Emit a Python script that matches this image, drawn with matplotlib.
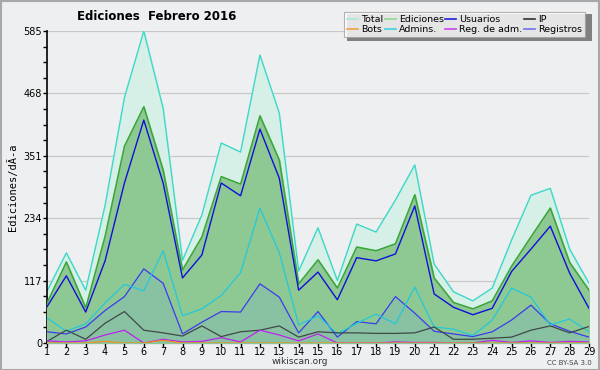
import matplotlib
matplotlib.use("Agg")
import matplotlib.pyplot as plt
from matplotlib.patches import Rectangle
from matplotlib.lines import Line2D
from matplotlib.ticker import MultipleLocator

days = list(range(1, 30))
total = [97, 169, 99, 258, 460, 585, 440, 155, 240, 375, 358, 540, 431, 135, 216, 117, 223, 208, 268, 334,
         148, 96, 79, 103, 193, 277, 290, 176, 112]
ediciones = [75, 152, 66, 200, 369, 443, 324, 137, 199, 312, 298, 426, 343, 111, 156, 103, 180, 173, 186, 278,
             122, 76, 64, 79, 144, 199, 253, 151, 99]
usuarios = [68, 126, 58, 154, 300, 418, 300, 122, 165, 300, 276, 401, 309, 99, 133, 81, 160, 154, 167, 257,
            92, 67, 53, 65, 134, 176, 219, 131, 65]
ip = [3, 24, 7, 37, 59, 24, 19, 13, 32, 12, 21, 24, 32, 11, 21, 19, 19, 18, 18, 19,
      30, 7, 7, 9, 11, 24, 32, 19, 31]
bots = [0, 0, 0, 3, 0, 0, 5, 0, 0, 0, 0, 0, 0, 0, 0, 0, 0, 0, 0, 0,
        0, 0, 0, 0, 0, 0, 0, 0, 0]
admins = [47, 22, 36, 75, 110, 98, 173, 51, 64, 89, 132, 253, 169, 34, 51, 17, 37, 54, 36, 105,
          30, 26, 14, 43, 103, 86, 34, 45, 21]
reg_adm = [4, 2, 4, 15, 24, 0, 7, 2, 3, 10, 2, 24, 15, 4, 17, 0, 0, 0, 2, 1,
           1, 0, 0, 5, 1, 4, 1, 3, 2]
registros = [21, 17, 30, 61, 87, 139, 112, 17, 39, 59, 58, 111, 86, 19, 59, 11, 40, 36, 87, 56,
             22, 17, 12, 21, 43, 71, 36, 22, 11]
yticks = [0, 117, 234, 351, 468, 585]
title = "Ediciones  Febrero 2016"
ylabel = "Ediciones/dÃ-a"

bg = "#eeeff0"
fig = plt.figure(figsize=(6.0, 3.7), dpi=100, facecolor=bg)
ax = fig.add_axes([47/600, 27/370, 542/600, 312/370])
ax.set_facecolor(bg)

for y in yticks[1:]:
    ax.axhline(y, color="#c8c8c8", lw=0.9, zorder=0)

ax.fill_between(days, total, color="#d6f0e8", zorder=1)
ax.plot(days, total, color="#3cd8c8", lw=1.0, zorder=2)
ax.fill_between(days, ediciones, color="#8ec893", zorder=3)
ax.plot(days, ediciones, color="#3aa63a", lw=1.1, zorder=4)
ax.plot(days, usuarios, color="#1010d8", lw=1.0, zorder=5)
ax.fill_between(days, registros, color="#80b8c0", alpha=0.35, lw=0, zorder=5)
ax.plot(days, registros, color="#3b3bf0", lw=0.9, zorder=6)
ax.plot(days, admins, color="#22c8dc", lw=0.9, zorder=6)
ax.plot(days, ip, color="#404848", lw=0.9, zorder=7)
ax.plot(days, reg_adm, color="#bb22ee", lw=0.9, zorder=7)
ax.plot(days, bots, color="#f09020", lw=0.9, zorder=7)

ax.set_xlim(1, 29)
ax.set_ylim(0, 585)
ax.set_xticks(days)
ax.set_yticks(yticks)
ax.yaxis.set_minor_locator(MultipleLocator(117/4))
for s in ["top", "right"]:
    ax.spines[s].set_visible(False)
ax.spines["left"].set_linewidth(1.2)
ax.spines["bottom"].set_linewidth(1.5)
ax.tick_params(axis="both", labelsize=7, length=3, width=1, pad=0.5, colors="black")
ax.tick_params(axis="x", pad=0)
ax.tick_params(axis="y", which="minor", length=3, width=1)
ax.set_ylabel(ylabel, family="DejaVu Sans Mono", fontsize=7.5, labelpad=4)

fig.text(157/600, 1 - 16/370, title, ha="center", va="center", fontsize=8.5, fontweight="bold")
fig.text(300/600, 1 - 362/370, "wikiscan.org", ha="center", va="center", fontsize=6.5, color="#333333")
fig.text(592/600, 1 - 363/370, "CC BY-SA 3.0", ha="right", va="center", fontsize=5, color="#444444")

handles = [
    Line2D([], [], color="#a8e8e0", lw=1.2), Line2D([], [], color="#f0a040", lw=1.2),
    Line2D([], [], color="#90d890", lw=1.2), Line2D([], [], color="#40d0e0", lw=1.2),
    Line2D([], [], color="#2020e0", lw=1.2), Line2D([], [], color="#cc44ee", lw=1.2),
    Line2D([], [], color="#303030", lw=1.2), Line2D([], [], color="#7070f0", lw=1.2),
]
labels = ["Total", "Bots", "Ediciones", "Admins.", "Usuarios", "Reg. de adm.", "IP", "Registros"]
# legend shadow
fig.patches.append(Rectangle((347/600, 1 - 41/370), 245/600, 27/370, transform=fig.transFigure,
                             facecolor="#808080", edgecolor="none", zorder=9))
leg = fig.legend(handles, labels, ncol=4, loc="upper left", bbox_to_anchor=(344/600, 1 - 12/370),
                 fontsize=6.8, frameon=True, fancybox=False, shadow=False, handlelength=1.2,
                 handletextpad=0.3, columnspacing=0.15, labelspacing=0.15, borderpad=0.3,
                 borderaxespad=0)
leg.get_frame().set_facecolor("white")
leg.get_frame().set_edgecolor("#a0a0a0")
leg.get_frame().set_linewidth(0.8)
leg.set_zorder(10)

fig.patches.append(Rectangle((0.5/600, 0.5/370), 598.5/600, 368.5/370, transform=fig.transFigure,
                             facecolor="none", edgecolor="#a8a8a8", lw=1.5, zorder=20))

fig.savefig("out.png", dpi=100, facecolor=bg)
